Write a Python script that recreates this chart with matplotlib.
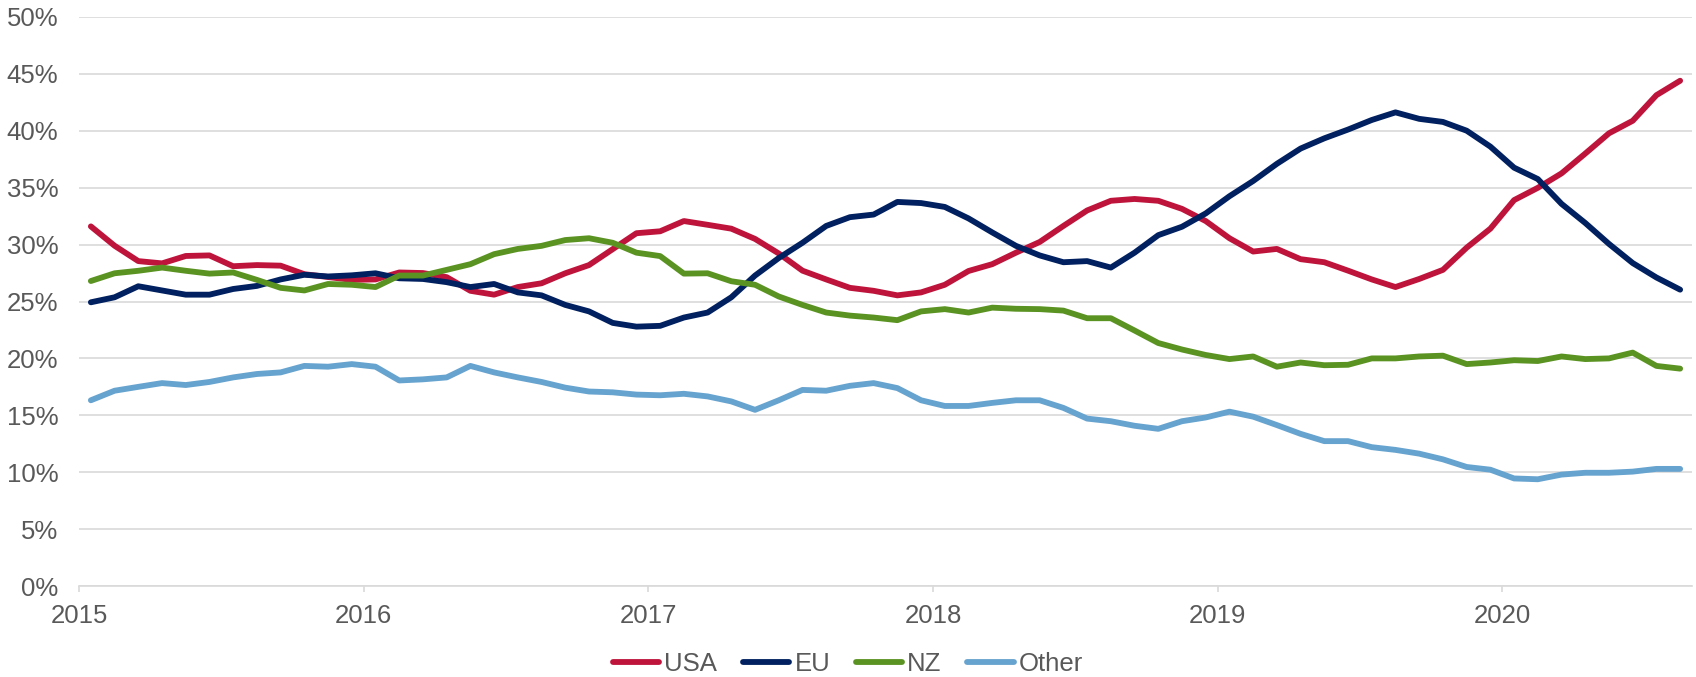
import numpy as np
import matplotlib
matplotlib.use("Agg")
import matplotlib.pyplot as plt
from matplotlib.ticker import FuncFormatter

plt.rcParams['font.family'] = ['Liberation Sans', 'DejaVu Sans']

# monthly shares (%), Jan 2015 .. Aug 2020
usa = [31.6, 29.9, 28.55, 28.35, 29.0, 29.05, 28.1, 28.2, 28.15, 27.4, 27.15, 26.9,
       26.94, 27.55, 27.5, 27.14, 25.94, 25.6, 26.27, 26.6, 27.48, 28.2, 29.6, 31.0,
       31.17, 32.07, 31.74, 31.4, 30.5, 29.22, 27.71, 26.94, 26.2, 25.94, 25.54, 25.8,
       26.47, 27.68, 28.28, 29.29, 30.23, 31.64, 33.0, 33.85, 34.01, 33.85, 33.14, 32.07,
       30.56, 29.39, 29.62, 28.72, 28.45, 27.71, 26.94, 26.27, 26.98, 27.78, 29.73, 31.4,
       33.91, 34.99, 36.26, 38.0, 39.78, 40.88, 43.13, 44.4]
eu = [24.93, 25.37, 26.34, 25.97, 25.6, 25.6, 26.1, 26.37, 26.94, 27.35, 27.2, 27.3,
      27.48, 27.04, 26.98, 26.7, 26.27, 26.54, 25.8, 25.54, 24.7, 24.13, 23.12, 22.79,
      22.86, 23.59, 24.03, 25.37, 27.28, 28.82, 30.16, 31.64, 32.41, 32.64, 33.75, 33.65,
      33.31, 32.3, 31.07, 29.89, 29.05, 28.45, 28.55, 27.98, 29.29, 30.83, 31.57, 32.74,
      34.25, 35.59, 37.1, 38.44, 39.34, 40.11, 40.95, 41.62, 41.05, 40.78, 40.01, 38.61,
      36.76, 35.76, 33.58, 31.9, 30.06, 28.38, 27.11, 26.04]
nz = [26.8, 27.48, 27.7, 27.98, 27.7, 27.45, 27.55, 26.9, 26.2, 25.97, 26.54, 26.47,
      26.27, 27.28, 27.28, 27.78, 28.28, 29.16, 29.62, 29.89, 30.4, 30.56, 30.16, 29.29,
      28.99, 27.45, 27.48, 26.78, 26.47, 25.44, 24.7, 24.03, 23.76, 23.59, 23.36, 24.13,
      24.33, 24.03, 24.46, 24.36, 24.33, 24.2, 23.53, 23.53, 22.45, 21.35, 20.78, 20.3,
      19.94, 20.17, 19.27, 19.64, 19.4, 19.44, 20.0, 20.0, 20.17, 20.24, 19.5, 19.64,
      19.84, 19.77, 20.17, 19.94, 20.0, 20.51, 19.34, 19.1]
other = [16.32, 17.16, 17.5, 17.83, 17.66, 17.93, 18.33, 18.63, 18.77, 19.34, 19.27, 19.5,
         19.27, 18.06, 18.16, 18.33, 19.34, 18.77, 18.33, 17.93, 17.43, 17.09, 17.02, 16.82,
         16.76, 16.89, 16.66, 16.22, 15.48, 16.32, 17.23, 17.16, 17.59, 17.83, 17.39, 16.32,
         15.82, 15.82, 16.09, 16.32, 16.32, 15.65, 14.71, 14.48, 14.08, 13.81, 14.48, 14.81,
         15.32, 14.88, 14.14, 13.37, 12.73, 12.73, 12.2, 11.96, 11.63, 11.13, 10.46, 10.22,
         9.45, 9.38, 9.79, 9.95, 9.95, 10.05, 10.29, 10.29]
series_names = ['USA', 'EU', 'NZ', 'Other']
years = ['2015', '2016', '2017', '2018', '2019', '2020']

colors = ['#BE143C', '#002060', '#5B9322', '#67A3CF']
grid_col = '#D9D9D9'
text_col = '#595959'

fig = plt.figure(figsize=(16.96, 6.77), dpi=100)
ax = fig.add_axes([79 / 1696, 1 - 586 / 677, 1613 / 1696, 569 / 677])

x = np.arange(len(usa)) + 0.5
for vals, name, c in zip([usa, eu, nz, other], series_names, colors):
    ax.plot(x, vals, color=c, lw=4.2, label=name,
            solid_capstyle='round', solid_joinstyle='round', zorder=3)

ax.set_xlim(0, len(usa))
ax.set_ylim(0, 50)
ax.set_yticks(np.arange(0, 51, 5))
ax.yaxis.set_major_formatter(FuncFormatter(lambda v, p: f'{v:.0f}%'))
ax.set_xticks(np.arange(len(years)) * 12)
ax.set_xticklabels(years)

ax.grid(axis='y', color=grid_col, lw=1.2, zorder=0)
for s in ['top', 'right', 'left']:
    ax.spines[s].set_visible(False)
ax.spines['bottom'].set_color(grid_col)
ax.spines['bottom'].set_linewidth(1.2)
ax.tick_params(axis='y', length=0, pad=15, labelsize=18.5, labelcolor=text_col)
ax.tick_params(axis='x', length=4, width=1.2, color=grid_col, pad=9,
               labelsize=18.5, labelcolor=text_col)

fig.legend(loc='center', bbox_to_anchor=(0.5, 1 - 664 / 677), ncol=4, frameon=False,
           fontsize=18.5, labelcolor=text_col, handlelength=1.8, handletextpad=0.2,
           columnspacing=1.0)

fig.savefig('out.png', dpi=100)
